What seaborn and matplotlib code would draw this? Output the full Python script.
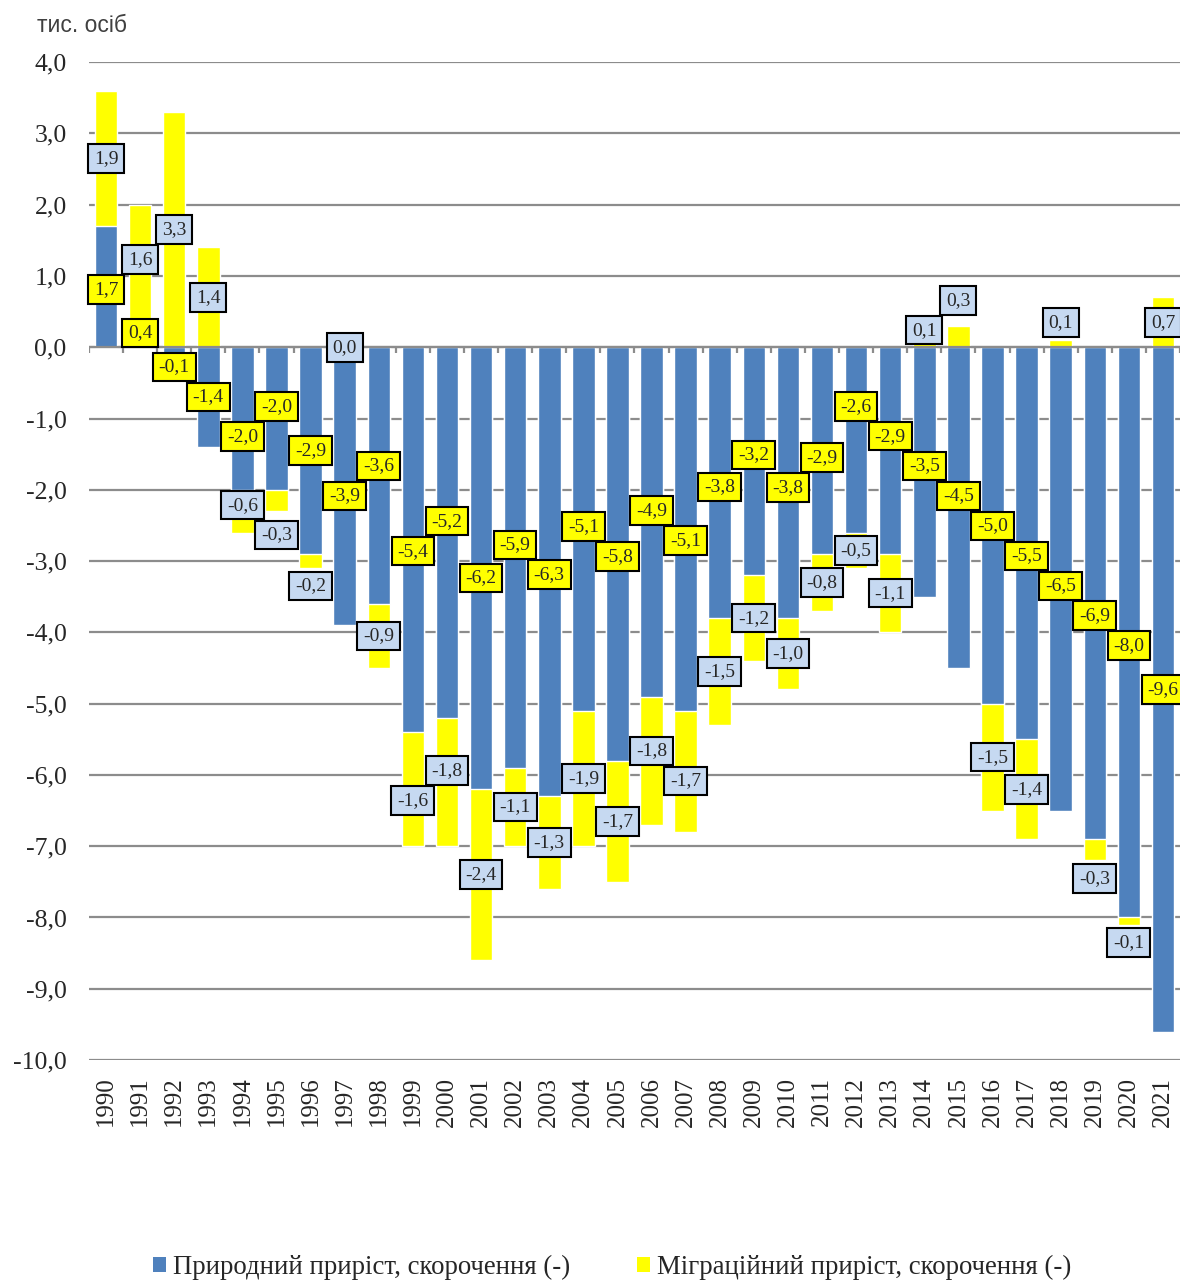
import numpy as np
import pandas as pd
import matplotlib
matplotlib.use("Agg")
import matplotlib.pyplot as plt
from matplotlib.patches import Patch
import seaborn as sns

years = [str(y) for y in range(1990, 2022)]
natural = [1.7, 0.4, -0.1, -1.4, -2.0, -2.0, -2.9, -3.9, -3.6, -5.4, -5.2, -6.2, -5.9,
           -6.3, -5.1, -5.8, -4.9, -5.1, -3.8, -3.2, -3.8, -2.9, -2.6, -2.9, -3.5, -4.5,
           -5.0, -5.5, -6.5, -6.9, -8.0, -9.6]
migration = [1.9, 1.6, 3.3, 1.4, -0.6, -0.3, -0.2, 0.0, -0.9, -1.6, -1.8, -2.4, -1.1,
             -1.3, -1.9, -1.7, -1.8, -1.7, -1.5, -1.2, -1.0, -0.8, -0.5, -1.1, 0.1, 0.3,
             -1.5, -1.4, 0.1, -0.3, -0.1, 0.7]
yticks = [4, 3, 2, 1, 0, -1, -2, -3, -4, -5, -6, -7, -8, -9, -10]
label_nat = "Природний приріст, скорочення (-)"
label_mig = "Міграційний приріст, скорочення (-)"
unit_label = "тис. осіб"

BLUE = "#4F81BD"
YELLOW = "#FFFF00"
LBLUE = "#C6D9F1"
GRID = "#8C8C8C"

sns.set_style("white")
plt.rcParams["font.family"] = ["Liberation Serif", "DejaVu Serif"]

nat = np.array(natural)
mig = np.array(migration)
same = np.sign(nat) == np.sign(mig)
mig_base = np.where(same, nat, 0.0)
mig_end = mig_base + mig

df = pd.DataFrame({"year": years, "nat": nat, "mig_end": mig_end})

fig = plt.figure(figsize=(11.8, 12.81), dpi=100)
ax = fig.add_axes([0.0754, 0.1725, 0.9246, 0.779])

sns.barplot(data=df, x="year", y="mig_end", color=YELLOW, saturation=1,
            width=0.66, ax=ax, order=years, zorder=2)
sns.barplot(data=df, x="year", y="nat", color=BLUE, saturation=1,
            width=0.66, ax=ax, order=years, zorder=3)

ax.set_xlim(-0.5, len(years) - 0.5)
ax.set_ylim(-10, 4)
ax.set_yticks(yticks)
ax.set_yticklabels([f"{v:.1f}".replace(".", ",") for v in yticks], fontsize=18.5)
ax.grid(axis="y", color=GRID, lw=1.6, zorder=0)
ax.grid(axis="x", visible=False)
ax.set_axisbelow(True)
for s in ax.spines.values():
    s.set_visible(False)
ax.tick_params(axis="y", length=0, pad=16)
ax.tick_params(axis="x", length=0, pad=12)
ax.set_xticks(range(len(years)))
ax.set_xticklabels(years, rotation=90, fontsize=18)
ax.set_xlabel("")
ax.set_ylabel("")

# zero line with category boundary ticks
ax.axhline(0, color=GRID, lw=1.6, zorder=4)
ax.vlines(np.arange(-0.5, len(years), 1), -0.085, 0, color=GRID, lw=1.6, zorder=4)


def fmt(v):
    return f"{v:.1f}".replace(".", ",")


def label_y(base, v):
    if abs(v) < 0.35:
        return base + v + 0.25 * np.sign(v)
    return base + v / 2


# initial label positions: segment centres
cols, ys, texts, fcs = [], [], [], []
for i in range(len(years)):
    cols.append(i); ys.append(label_y(0.0, nat[i])); texts.append(fmt(nat[i])); fcs.append(YELLOW)
    cols.append(i); ys.append(label_y(mig_base[i], mig[i])); texts.append(fmt(mig[i])); fcs.append(LBLUE)
cols = np.array(cols); ys = np.array(ys, dtype=float)

# simple overlap removal between labels in the same / neighbouring columns
H = 0.42
for _ in range(300):
    moved = False
    for a in range(len(ys)):
        for b in range(a + 1, len(ys)):
            if abs(cols[a] - cols[b]) > 1:
                continue
            d = ys[a] - ys[b]
            if abs(d) < H:
                push = (H - abs(d)) / 2 + 1e-4
                sgn = 1.0 if d > 0 or (d == 0 and cols[a] > cols[b]) else -1.0
                if d == 0 and cols[a] == cols[b]:
                    sgn = 1.0
                ys[a] += sgn * push
                ys[b] -= sgn * push
                moved = True
    if not moved:
        break

for c, y, t, fc in zip(cols, ys, texts, fcs):
    ax.text(c, y, t, ha="center", va="center", fontsize=14, zorder=6,
            bbox=dict(boxstyle="square,pad=0.3", fc=fc, ec="black", lw=1.5))

fig.text(37 / 1180, 1 - 25 / 1281, unit_label, ha="left", va="center", fontsize=16.5,
         color="#404040", family=["Liberation Sans", "DejaVu Sans"])

handles = [Patch(facecolor=BLUE, edgecolor="none"), Patch(facecolor=YELLOW, edgecolor="none")]
fig.legend(handles, [label_nat, label_mig], loc="lower center",
           bbox_to_anchor=(0.5186, -0.018), ncol=2, frameon=False,
           handlelength=0.49, handleheight=0.49, handletextpad=0.26,
           columnspacing=2.5, prop={"size": 19.3})

fig.savefig("out.png", dpi=100)
